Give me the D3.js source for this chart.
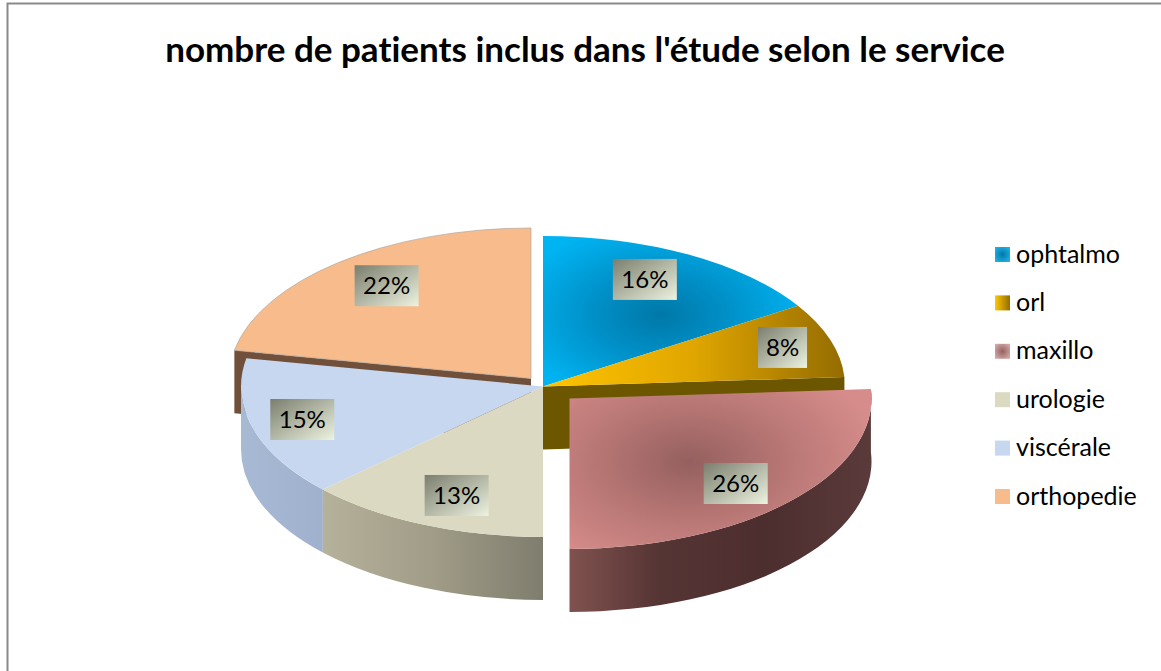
<!DOCTYPE html>
<html><head><meta charset="utf-8">
<script src="https://cdn.jsdelivr.net/npm/d3@7/dist/d3.min.js"></script>
<style>html,body{margin:0;padding:0;background:#fff;overflow:hidden}svg{display:block}text{font-family:Lato,"Open Sans",sans-serif;fill:#000;font-variant-ligatures:none;font-feature-settings:"liga" 0,"dlig" 0}</style>
</head><body><svg id="c" width="1161" height="671"></svg>
<script>
const chartTitle = "nombre de patients inclus dans l'étude selon le service";
const categories = ["ophtalmo","orl","maxillo","urologie","viscérale","orthopedie"];
const values = [16,8,26,13,15,22];
const topColors = ["#0a9ad6","#d9a400","#b87a78","#dcd9c2","#c6d7ef","#f8bc8c"];

// layout
const W=1161,H=671, cx=543, cy=386.5, rx=302, ry=150.5, depth=63;
const explode = [[0,0],[0,0],[26.5,12],[0,0],[0,0],[-12,-8]];
const labelFrac = [[.70,.812],[.834,.84],[.755,.825],[.72,.789],[.83,.786],[.75,.80]];

const svg=d3.select("#c");
const defs=svg.append("defs");
const color=d3.scaleOrdinal(categories,topColors);
const arcs=d3.pie().sort(null).value(d=>d)(values);

function pt(a,ox,oy,dy=0){return [cx+ox+rx*Math.sin(a), cy+oy-ry*Math.cos(a)+dy];}
function topPath(d,i){
  const [ox,oy]=explode[i], p0=pt(d.startAngle,ox,oy), p1=pt(d.endAngle,ox,oy);
  const large=d.endAngle-d.startAngle>Math.PI?1:0;
  return `M${cx+ox},${cy+oy}L${p0}A${rx},${ry} 0 ${large} 1 ${p1}Z`;
}
function wallPath(a0,a1,i){
  const [ox,oy]=explode[i], p0=pt(a0,ox,oy), p1=pt(a1,ox,oy), q1=pt(a1,ox,oy,depth), q0=pt(a0,ox,oy,depth);
  return `M${p0}A${rx},${ry} 0 0 1 ${p1}L${q1}A${rx},${ry} 0 0 0 ${q0}Z`;
}
function cutPath(a,i){
  const [ox,oy]=explode[i], p=pt(a,ox,oy), q=pt(a,ox,oy,depth);
  return `M${cx+ox},${cy+oy}L${p}L${q}L${cx+ox},${cy+oy+depth}Z`;
}
function linear(id,x1,x2,stops,bbox){
  const g=defs.append("linearGradient").attr("id",id);
  if(bbox) g.attr("x1",0).attr("x2",1).attr("y1",0).attr("y2",0);
  else g.attr("gradientUnits","userSpaceOnUse").attr("x1",x1).attr("x2",x2).attr("y1",0).attr("y2",0);
  stops.forEach(s=>g.append("stop").attr("offset",s[0]).attr("stop-color",s[1]));
}
function radial(id,x,y,r,stops,sy){
  const g=defs.append("radialGradient").attr("id",id);
  if(x===null){g.attr("cx",.5).attr("cy",.5).attr("r",.6);}
  else g.attr("gradientUnits","userSpaceOnUse").attr("cx",0).attr("cy",0).attr("r",r)
        .attr("gradientTransform",`translate(${x},${y}) scale(1,${sy})`);
  stops.forEach(s=>g.append("stop").attr("offset",s[0]).attr("stop-color",s[1]));
}
const blueStops=[[0,"#0078a8"],[.45,"#0090c8"],[1,"#00b4f2"]];
const redStops=[[0,"#94605f"],[.45,"#b47472"],[1,"#d58c8a"]];
radial("gBlue",660,315,150,blueStops,.62);
radial("gRed",690,462,190,redStops,.6);
const orlStops=[[0,"#ffc400"],[.5,"#e0a600"],[1,"#946c00"]];
linear("gOrl",543,844,orlStops);
linear("gMax",569,871,[[0,"#80524f"],[.3,"#553434"],[.65,"#4d2e2e"],[1,"#5a3a3a"]]);
linear("gUro",323,543,[[0,"#b6b19b"],[.5,"#a09c87"],[1,"#7f7d6e"]]);
linear("gVis",241,323,[[0,"#a8b9d4"],[1,"#9fb1cd"]]);
radial("lBlue",null,0,0,[[0,"#0078a8"],[1,"#1fb0e6"]]);
radial("lRed",null,0,0,[[0,"#98605f"],[1,"#d0a8a8"]]);
linear("lOrl",0,0,[[0,"#ffc800"],[1,"#946c00"]],true);
const lab=defs.append("linearGradient").attr("id","gLabel").attr("x1",0).attr("y1",0).attr("x2",1).attr("y2",1);
lab.append("stop").attr("offset",0).attr("stop-color","#7b7e6e");
lab.append("stop").attr("offset",1).attr("stop-color","#ecf3df");

const fills=["url(#gBlue)","url(#gOrl)","url(#gRed)",color(categories[3]),color(categories[4]),color(categories[5])];
const swatchFills=["url(#lBlue)","url(#lOrl)","url(#lRed)",color(categories[3]),color(categories[4]),color(categories[5])];

// frame
svg.append("path").attr("d",`M7.5,${H}V3.5H${W}`).attr("fill","none").attr("stroke","#8a8a8a").attr("stroke-width",2);

// title
svg.append("text").attr("x",585).attr("y",62).attr("text-anchor","middle").attr("font-size",35).attr("font-weight",700).text(chartTitle);

const pie=svg.append("g");
const byName=n=>categories.indexOf(n);
// back pieces
let i=byName("orthopedie");
pie.append("path").attr("d",cutPath(arcs[i].startAngle,i)).attr("fill","#70503a");
pie.append("path").attr("d",topPath(arcs[i],i)).attr("fill",fills[i]).attr("stroke","#b0a8a0").attr("stroke-width",.7);
i=byName("ophtalmo");
pie.append("path").attr("d",topPath(arcs[i],i)).attr("fill",fills[i]);
i=byName("orl");
pie.append("path").attr("d",cutPath(arcs[i].endAngle,i)).attr("fill","#6c5600");
pie.append("path").attr("d",topPath(arcs[i],i)).attr("fill",fills[i]);
// front pieces
i=byName("viscérale");
pie.append("path").attr("d",wallPath(arcs[i].startAngle,Math.PI*1.5,i)).attr("fill","url(#gVis)");
i=byName("urologie");
pie.append("path").attr("d",wallPath(arcs[i].startAngle,arcs[i].endAngle,i)).attr("fill","url(#gUro)");
i=byName("viscérale");
pie.append("path").attr("d",topPath(arcs[i],i)).attr("fill",fills[i]);
i=byName("urologie");
pie.append("path").attr("d",topPath(arcs[i],i)).attr("fill",fills[i]);
// exploded maxillo
i=byName("maxillo");
pie.append("path").attr("d",wallPath(arcs[i].startAngle,arcs[i].endAngle,i)).attr("fill","url(#gMax)");
pie.append("path").attr("d",topPath(arcs[i],i)).attr("fill",fills[i]);

// data labels
arcs.forEach((d,k)=>{
  const mid=(d.startAngle+d.endAngle)/2,[ox,oy]=explode[k],[fx,fy]=labelFrac[k];
  const x=cx+ox+rx*fx*Math.sin(mid), y=cy+oy-ry*fy*Math.cos(mid);
  const w=d.data<10?49:64,h=41;
  const g=svg.append("g").attr("transform",`translate(${x},${y})`);
  g.append("rect").attr("x",-w/2).attr("y",-h/2).attr("width",w).attr("height",h).attr("fill","url(#gLabel)");
  g.append("text").attr("text-anchor","middle").attr("y",8.5).attr("font-size",24).text(d.data+"%");
});

// legend
const legY=d3.scalePoint().domain(categories).range([254.5,496.5]);
const leg=svg.append("g").selectAll("g").data(categories).join("g").attr("transform",d=>`translate(0,${legY(d)})`);
leg.append("rect").attr("x",995).attr("y",-7.5).attr("width",15).attr("height",15).attr("fill",(d,k)=>swatchFills[k]);
leg.append("text").attr("x",1016).attr("y",8).attr("font-size",25).text(d=>d);
</script></body></html>
